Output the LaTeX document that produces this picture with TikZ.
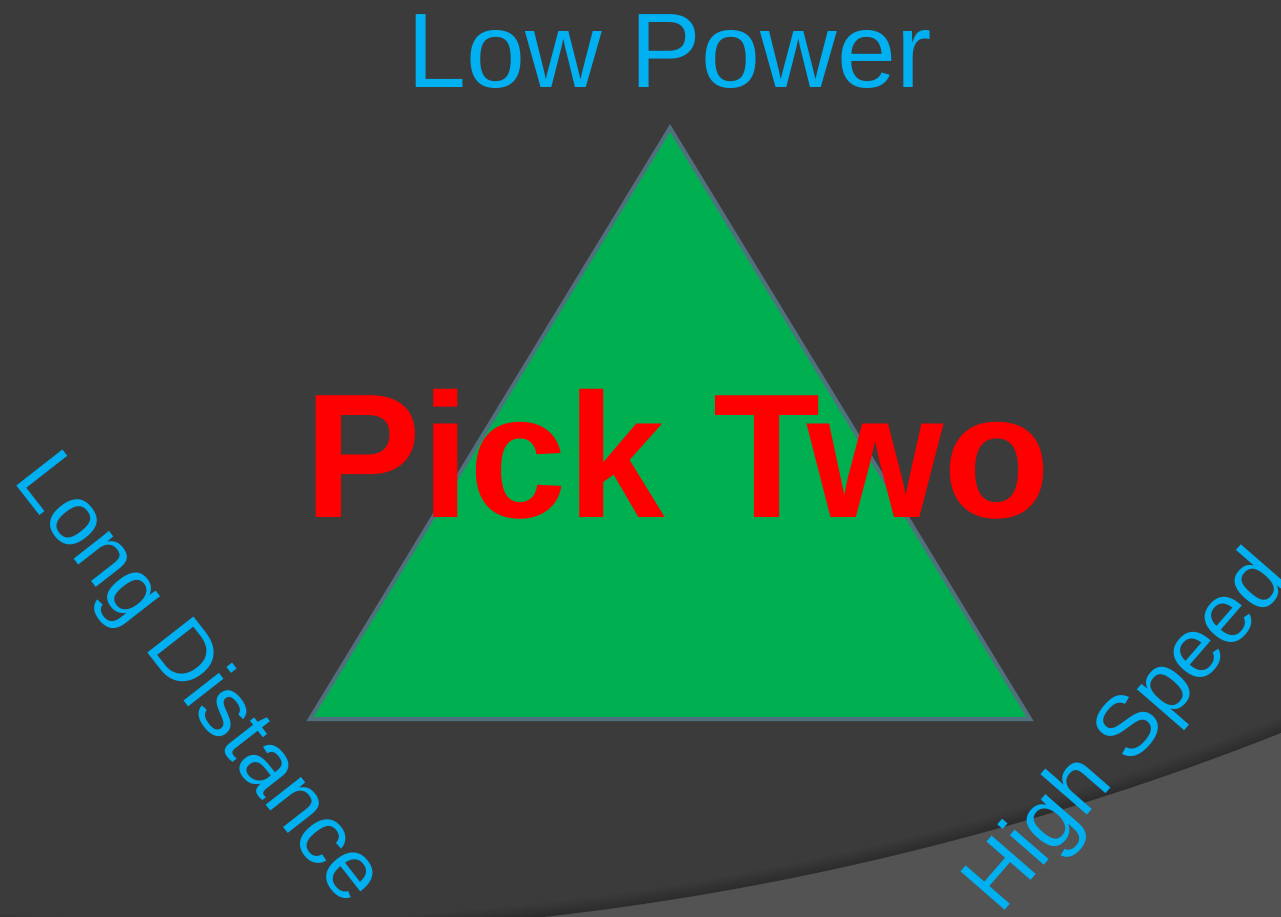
\documentclass[tikz,border=0pt]{standalone}
\usepackage{fontspec}
\setmainfont{Liberation Sans}
\definecolor{bgdark}{RGB}{59,59,59}
\definecolor{bglight}{RGB}{83,83,83}
\definecolor{trifill}{RGB}{0,176,80}
\definecolor{triedge}{RGB}{80,112,126}
\definecolor{lblblue}{RGB}{0,176,240}
\definecolor{pickred}{RGB}{255,0,0}
\begin{document}
\begin{tikzpicture}[x=1pt,y=-1pt,
  lbltext/.style={text=lblblue, inner sep=0pt, anchor=base west},
  tristyle/.style={draw=triedge, fill=trifill, line width=4pt, line join=miter}]
\useasboundingbox (0,0) rectangle (1281,917);
\fill[bglight] (0,0) rectangle (1281,917);
\coordinate (cc) at (217.1,-1952);
\begin{scope}
  \clip (0,0) rectangle (1281,917);
  \fill[bgdark] (cc) circle (2887.2pt);
  \clip (cc) circle (2887.2pt);
  \foreach \w in {4,8,...,28} \draw[black, opacity=0.025, line width=\w pt] (cc) circle (2887.2pt);
\end{scope}
\coordinate (apex) at (670,128);
\coordinate (bl) at (310,719);
\coordinate (br) at (1030,719);
\draw[tristyle] (apex) -- (bl) -- (br) -- cycle;
\node[lbltext, font=\fontsize{106}{110}\selectfont] (low) at (407,88) {Low Power};
\node[lbltext, font=\fontsize{85}{90}\selectfont, rotate=-52] (long) at (12,480) {Long Distance};
\node[lbltext, font=\fontsize{85}{90}\selectfont, rotate=49] (high) at (1000,916) {High Speed};
\node[text=pickred, inner sep=0pt, anchor=base west, xscale=0.99, font=\bfseries\fontsize{177}{180}\selectfont] (pick) at (304,517) {Pick Two};
\end{tikzpicture}
\end{document}
